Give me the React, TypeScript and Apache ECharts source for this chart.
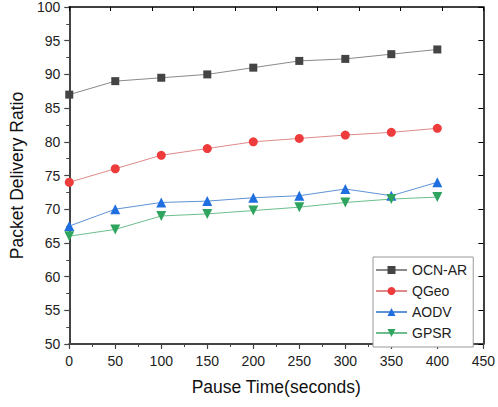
import React, { useEffect, useRef } from "react";
import * as echarts from "echarts";

const pauseTimes = [0, 50, 100, 150, 200, 250, 300, 350, 400];
const ocnAr = [87, 89, 89.5, 90, 91, 92, 92.3, 93, 93.7];
const qGeo = [74, 76, 78, 79, 80, 80.5, 81, 81.4, 82];
const aodv = [67.5, 70, 71, 71.2, 71.7, 72, 73, 72, 74];
const gpsr = [66, 67, 69, 69.3, 69.8, 70.3, 71, 71.5, 71.8];

const FONT = "Arial, 'Liberation Sans', sans-serif";

function pairs(vals: number[]) {
  return pauseTimes.map((x, i) => [x, vals[i]]);
}

export default function App() {
  const ref = useRef<HTMLDivElement>(null);
  useEffect(() => {
    if (!ref.current) return;
    const chart = echarts.init(ref.current, undefined, { renderer: "svg" });
    const mk = (
      name: string,
      vals: number[],
      symbol: string,
      size: number,
      markerColor: string,
      lineColor: string,
      rotate = 0
    ) => ({
      name,
      type: "line",
      data: pairs(vals),
      xAxisIndex: 0,
      yAxisIndex: 0,
      symbol,
      symbolSize: size,
      symbolRotate: rotate,
      showAllSymbol: true,
      itemStyle: { color: markerColor, borderWidth: 0 },
      lineStyle: { color: lineColor, width: 1 },
      emphasis: { disabled: true },
    });
    chart.setOption({
      animation: false,
      backgroundColor: "#ffffff",
      textStyle: { fontFamily: FONT },
      grid: { left: 66, right: 12, top: 4, bottom: 63, containLabel: false },
      legend: {
        orient: "vertical",
        left: 373,
        top: 257,
        padding: [6, 6, 7, 2],
        itemWidth: 31,
        itemHeight: 10,
        itemGap: 7,
        borderColor: "#999",
        borderWidth: 1,
        backgroundColor: "#fff",
        textStyle: { fontSize: 14, color: "#222", fontFamily: FONT, padding: [0, 0, 0, 0] },
        data: ["OCN-AR", "QGeo", "AODV", "GPSR"],
      },
      xAxis: [
        {
          type: "value",
          min: 0,
          max: 450,
          interval: 50,
          position: "bottom",
          name: "Pause Time(seconds)",
          nameLocation: "middle",
          nameGap: 34,
          nameTextStyle: { fontSize: 17.5, color: "#111", fontFamily: FONT },
          axisLine: { show: true, onZero: false, lineStyle: { color: "#444", width: 2 } },
          axisTick: { show: true, inside: false, length: 5, lineStyle: { color: "#444", width: 1.2 } },
          minorTick: { show: true, splitNumber: 2, length: 3, lineStyle: { color: "#444", width: 1 } },
          axisLabel: { fontSize: 14, color: "#222", margin: 10, fontFamily: FONT },
          splitLine: { show: false },
        },
        {
          type: "value",
          min: 0,
          max: 10,
          interval: 1,
          position: "top",
          axisLine: { show: true, onZero: false, lineStyle: { color: "#000", width: 1.5 } },
          axisTick: { show: true, inside: true, length: 4, lineStyle: { color: "#000", width: 1 } },
          axisLabel: { show: false },
          splitLine: { show: false },
        },
      ],
      yAxis: [
        {
          type: "value",
          min: 50,
          max: 100,
          interval: 5,
          position: "left",
          name: "Packet Delivery Ratio",
          nameLocation: "middle",
          nameGap: 40,
          nameTextStyle: { fontSize: 17.5, color: "#111", fontFamily: FONT },
          axisLine: { show: true, onZero: false, lineStyle: { color: "#444", width: 2 } },
          axisTick: { show: true, inside: false, length: 5, lineStyle: { color: "#444", width: 1.2 } },
          minorTick: { show: true, splitNumber: 2, length: 3, lineStyle: { color: "#444", width: 1 } },
          axisLabel: { fontSize: 14, color: "#222", margin: 9, fontFamily: FONT },
          splitLine: { show: false },
        },
        {
          type: "value",
          min: 50,
          max: 100,
          interval: 5,
          position: "right",
          axisLine: { show: true, onZero: false, lineStyle: { color: "#000", width: 1.5 } },
          axisTick: { show: true, inside: true, length: 5, lineStyle: { color: "#000", width: 1 } },
          axisLabel: { show: false },
          splitLine: { show: false },
        },
      ],
      series: [
        mk("OCN-AR", ocnAr, "rect", 8, "#444444", "#8a8a8a"),
        mk("QGeo", qGeo, "circle", 9, "#ee3b3b", "#e08a8a"),
        mk("AODV", aodv, "triangle", 10, "#1f6fe0", "#5f93d6"),
        mk("GPSR", gpsr, "triangle", 10, "#2ea45e", "#6cbf8c", 180),
      ],
    });
    return () => chart.dispose();
  }, []);
  return (
    <div
      ref={ref}
      style={{ position: "fixed", left: 0, top: 0, width: 498, height: 407 }}
    />
  );
}
